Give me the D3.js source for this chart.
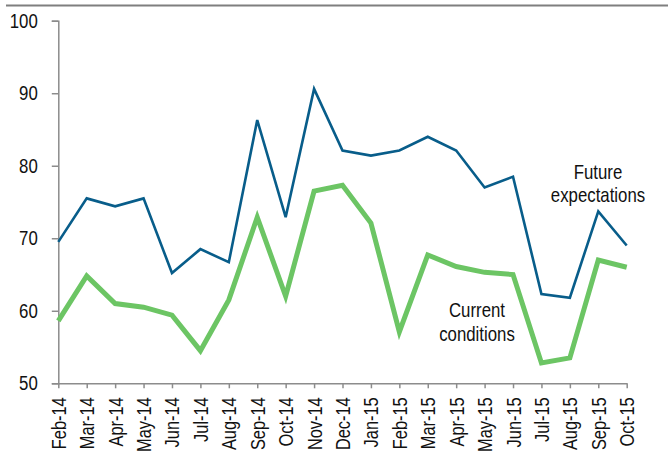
<!DOCTYPE html>
<html>
<head>
<meta charset="utf-8">
<script src="https://cdn.jsdelivr.net/npm/d3@7"></script>
<style>
  html, body { margin: 0; padding: 0; background: #fff; overflow: hidden; }
  svg { display: block; }
  svg text { font-family: "Liberation Sans", Arial, sans-serif; fill: #111; }
</style>
</head>
<body>
<svg id="chart" width="668" height="462"></svg>
<script>
// Monthly index readings, Feb 2014 – Oct 2015
const months = ["Feb-14","Mar-14","Apr-14","May-14","Jun-14","Jul-14","Aug-14","Sep-14","Oct-14","Nov-14","Dec-14",
                "Jan-15","Feb-15","Mar-15","Apr-15","May-15","Jun-15","Jul-15","Aug-15","Sep-15","Oct-15"];
const futureExpectations = [69.5, 75.5, 74.4, 75.5, 65.2, 68.5, 66.7, 86.3, 72.9, 90.6, 82.1,
                            81.4, 82.1, 84.0, 82.1, 77.0, 78.5, 62.3, 61.8, 73.7, 69.0];
const currentConditions = [58.6, 64.8, 61.0, 60.5, 59.4, 54.5, 61.5, 72.9, 62.0, 76.5, 77.3,
                           72.1, 57.1, 67.7, 66.1, 65.3, 65.0, 52.8, 53.5, 67.0, 66.0];
const yTicks = [50, 60, 70, 80, 90, 100];

const svg = d3.select("#chart");
const axisColor = "#8c8c8c";
const narrow = 0.82; // horizontal squeeze for a condensed face

// top rule
svg.append("line")
  .attr("x1", 6).attr("x2", 668).attr("y1", 5.5).attr("y2", 5.5)
  .attr("stroke", "#7f7f7f").attr("stroke-width", 2.2);

const x = d3.scalePoint().domain(months).range([58.3, 626.7]);
const y = d3.scaleLinear().domain([50, 100]).range([383.3, 20.7]);

// y axis
const yAxis = svg.append("g")
  .attr("transform", "translate(58.3,0)")
  .call(d3.axisLeft(y).tickValues(yTicks).tickSize(6.5).tickPadding(14));
yAxis.select(".domain").attr("stroke", axisColor).attr("stroke-width", 1.5);
yAxis.selectAll(".tick line").attr("stroke", axisColor).attr("stroke-width", 1.5);
yAxis.selectAll(".tick text")
  .attr("font-size", 20.5).attr("fill", "#111")
  .attr("x", 0)
  .attr("transform", `translate(-20.5,0) scale(${narrow},1)`);

// x axis
const xAxis = svg.append("g")
  .attr("transform", "translate(0,383.3)")
  .call(d3.axisBottom(x).tickSize(5).tickSizeOuter(0));
xAxis.select(".domain").attr("stroke", axisColor).attr("stroke-width", 1.5);
xAxis.selectAll(".tick line").attr("stroke", axisColor).attr("stroke-width", 1.5);
xAxis.selectAll(".tick text")
  .attr("font-size", 20)
  .attr("fill", "#111")
  .attr("text-anchor", "end")
  .attr("x", 0)
  .attr("y", 0)
  .attr("dy", "0.35em")
  .attr("transform", `rotate(-90) translate(-14,0) scale(${narrow},1)`);

svg.selectAll(".tick text").attr("font-family", null);

const line = d3.line().x((d, i) => x(months[i])).y(d => y(d));

svg.append("path")
  .datum(currentConditions)
  .attr("d", line)
  .attr("fill", "none")
  .attr("stroke", "#6cc564")
  .attr("stroke-width", 5)
  .attr("stroke-linejoin", "miter");

svg.append("path")
  .datum(futureExpectations)
  .attr("d", line)
  .attr("fill", "none")
  .attr("stroke", "#085d8a")
  .attr("stroke-width", 2.6)
  .attr("stroke-linejoin", "miter");

// series labels
function label(lines, cx, cy) {
  const t = svg.append("text")
    .attr("text-anchor", "middle")
    .attr("font-size", 20.5)
    .attr("transform", `translate(${cx},${cy}) scale(${narrow},1)`);
  lines.forEach((s, i) => {
    t.append("tspan").attr("x", 0).attr("y", i * 23.5).attr("dy", "0.35em").text(s);
  });
}
label(["Future", "expectations"], 598, 171.5);
label(["Current", "conditions"], 477, 310);
</script>
</body>
</html>
